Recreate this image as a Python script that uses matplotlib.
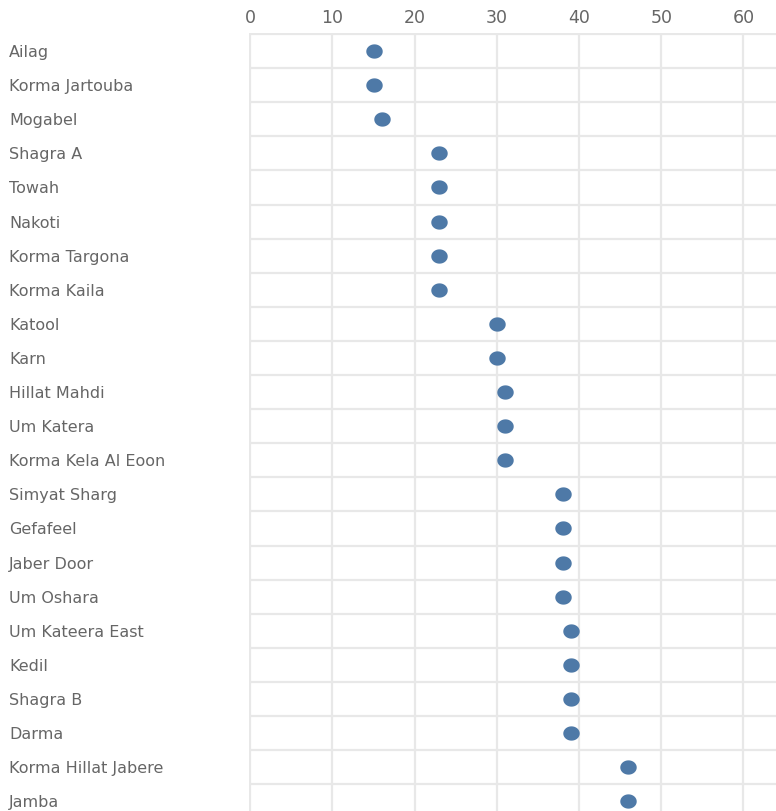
import numpy as np
import matplotlib
matplotlib.use("Agg")
import matplotlib.pyplot as plt
from matplotlib.path import Path

# villages and their values
villages = ["Ailag", "Korma Jartouba", "Mogabel", "Shagra A", "Towah", "Nakoti",
            "Korma Targona", "Korma Kaila", "Katool", "Karn", "Hillat Mahdi",
            "Um Katera", "Korma Kela Al Eoon", "Simyat Sharg", "Gefafeel",
            "Jaber Door", "Um Oshara", "Um Kateera East", "Kedil", "Shagra B",
            "Darma", "Korma Hillat Jabere", "Jamba"]
values = [15, 15, 16, 23, 23, 23, 23, 23, 30, 30, 31, 31, 31,
          38, 38, 38, 38, 39, 39, 39, 39, 46, 46]
xticks = [0, 10, 20, 30, 40, 50, 60]

grid_col = "#e8e8e8"
dot_col = "#4e79a7"
text_col = "#666666"

# slightly wide ellipse marker
t = np.linspace(0, 2 * np.pi, 60)
ellipse = Path(np.column_stack([1.15 * np.cos(t), np.sin(t)]))

W, H = 776, 811
fig = plt.figure(figsize=(W / 100, H / 100), dpi=100)
left, right, top = 249, 776, 33
row_h = 34.1
n = len(villages)
bottom = top + n * row_h
ax = fig.add_axes([left / W, (H - bottom) / H, (right - left) / W, n * row_h / H])

y = np.arange(n)
ax.scatter(values, y, s=140, marker=ellipse, color=dot_col, zorder=3, linewidths=0)

ax.set_xlim(-0.15, (right - left) / 8.22 - 0.15)
ax.set_ylim(n - 0.5 - 0.03, -0.5 - 0.03)
ax.set_xticks(xticks)
ax.set_xticklabels([str(v) for v in xticks])
ax.xaxis.tick_top()
ax.set_yticks(y)
ax.set_yticklabels(villages)
ax.set_yticks(np.arange(n) - 0.5, minor=True)

ax.tick_params(axis="x", length=0, pad=4, labelsize=12.5, labelcolor=text_col)
ax.tick_params(axis="y", which="major", length=0, pad=(left - 9) * 0.72,
               labelsize=11.5, labelcolor=text_col)
ax.tick_params(axis="y", which="minor", length=0)
for lab in ax.get_yticklabels():
    lab.set_horizontalalignment("left")
for lab in ax.get_xticklabels() + ax.get_yticklabels():
    lab.set_fontfamily("DejaVu Sans")

ax.grid(axis="x", which="major", color=grid_col, linewidth=1.6)
ax.grid(axis="y", which="minor", color=grid_col, linewidth=1.6)
ax.set_axisbelow(True)
for side in ["left", "top", "right", "bottom"]:
    ax.spines[side].set_visible(False)

fig.savefig("out.png", dpi=100)
